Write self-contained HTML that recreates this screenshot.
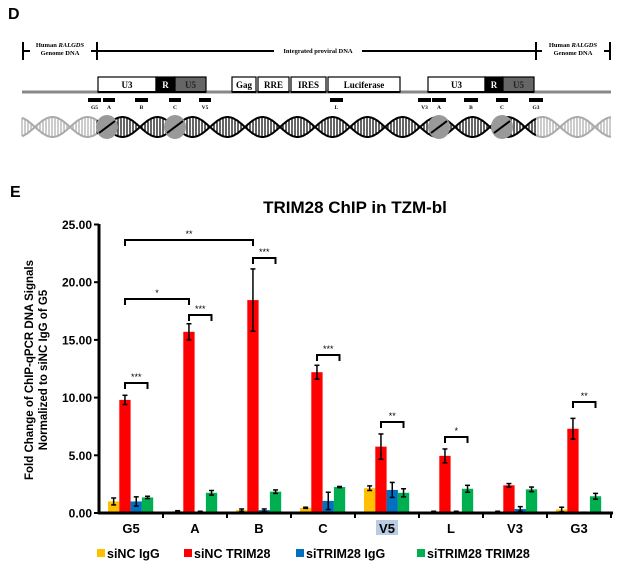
<!DOCTYPE html>
<html><head><meta charset="utf-8"><style>
body{margin:0;background:#fff}
svg{display:block}
text{font-family:"Liberation Sans",Arial,sans-serif}
.s{font-family:"Liberation Serif","Times New Roman",serif;font-weight:bold}
</style></head><body>
<svg id="c" width="632" height="569" viewBox="0 0 632 569" xmlns="http://www.w3.org/2000/svg">
<rect width="632" height="569" fill="#fff"/>
<text x="8" y="19" font-size="16" font-weight="bold">D</text>
<g stroke="#000" stroke-width="2">
<line x1="23" y1="42" x2="23" y2="60"/><line x1="97" y1="42" x2="97" y2="60"/>
<line x1="536" y1="42" x2="536" y2="60"/><line x1="610" y1="42" x2="610" y2="60"/>
<line x1="23" y1="51" x2="30" y2="51"/><line x1="91" y1="51" x2="97" y2="51"/>
<line x1="97" y1="51" x2="274" y2="51"/><line x1="362" y1="51" x2="536" y2="51"/>
<line x1="536" y1="51" x2="542" y2="51"/><line x1="604" y1="51" x2="610" y2="51"/>
</g>
<text class="s" x="60" y="47" font-size="6.5" text-anchor="middle">Human <tspan font-style="italic">RALGDS</tspan></text>
<text class="s" x="60" y="55" font-size="6.5" text-anchor="middle">Genome DNA</text>
<text class="s" x="573" y="47" font-size="6.5" text-anchor="middle">Human <tspan font-style="italic">RALGDS</tspan></text>
<text class="s" x="573" y="55" font-size="6.5" text-anchor="middle">Genome DNA</text>
<text class="s" x="318" y="53" font-size="6.5" text-anchor="middle">Integrated proviral DNA</text>
<line x1="22" y1="92" x2="611" y2="92" stroke="#888" stroke-width="3"/>
<g id="boxes"></g>
<g id="primers"></g>
<g id="helix"></g>
<text x="10" y="197" font-size="16" font-weight="bold">E</text>
<text x="355" y="213" font-size="17" font-weight="bold" text-anchor="middle">TRIM28 ChIP in TZM-bl</text>
<g transform="translate(33,370) rotate(-90)"><text x="0" y="0" font-size="11.5" font-weight="bold" text-anchor="middle">Fold Change of ChIP-qPCR DNA Signals</text>
<text x="0" y="14" font-size="11.5" font-weight="bold" text-anchor="middle">Normalized to siNC IgG of G5</text></g>
<rect x="376" y="520" width="22" height="15" fill="#b8cce4"/>
<g id="chart"></g>
<g id="legend" font-size="12.5" font-weight="bold">
<rect x="97" y="549" width="8" height="8" fill="#FFC000"/><text x="107" y="558">siNC IgG</text>
<rect x="184" y="549" width="8" height="8" fill="#FF0000"/><text x="194" y="558">siNC TRIM28</text>
<rect x="296" y="549" width="8" height="8" fill="#0070C0"/><text x="306" y="558">siTRIM28 IgG</text>
<rect x="417" y="549" width="8" height="8" fill="#00B050"/><text x="427" y="558">siTRIM28 TRIM28</text>
</g>
</svg>
<script>
var NS="http://www.w3.org/2000/svg";
function el(p,t,a,txt){var e=document.createElementNS(NS,t);for(var k in a)e.setAttribute(k,a[k]);if(txt!==undefined)e.textContent=txt;p.appendChild(e);return e;}
var B=document.getElementById('boxes');
var bx=[[98,156,'U3','#fff','#000'],[156,175,'R','#000','#fff'],[175,206,'U5','#666','#222'],[232,256,'Gag','#fff','#000'],[258,289,'RRE','#fff','#000'],[291,326,'IRES','#fff','#000'],[328,400,'Luciferase','#fff','#000'],[428,485,'U3','#fff','#000'],[485,503,'R','#000','#fff'],[503,534,'U5','#666','#222']];
bx.forEach(function(b){el(B,'rect',{x:b[0],y:77,width:b[1]-b[0],height:15,fill:b[3],stroke:'#000','stroke-width':1.2});
el(B,'line',{x1:b[0],y1:92,x2:b[1],y2:92,stroke:'#000','stroke-width':2});
el(B,'text',{x:(b[0]+b[1])/2,y:88,'font-size':9,'text-anchor':'middle',fill:b[4],'class':'s'},b[2]);});
var P=document.getElementById('primers');
[[88,101,'G5'],[103,115,'A'],[135,148,'B'],[169,181,'C'],[199,211,'V5'],[330,343,'L'],[418,431,'V3'],[432,446,'A'],[464,478,'B'],[496,508,'C'],[529,543,'G3']].forEach(function(p){
el(P,'rect',{x:p[0],y:98,width:p[1]-p[0],height:4,fill:'#000'});
el(P,'text',{x:(p[0]+p[1])/2,y:109,'font-size':5.5,'text-anchor':'middle','class':'s'},p[2]);});
var H=document.getElementById('helix');
var per=70,cy=127;
function yy(x,ph){return cy+10*Math.sin(2*Math.PI*x/per+ph);}
for(var x=22;x<=611;x+=3){var col=(x<97||x>536)?'#aaa':'#000';
el(H,'line',{x1:x,y1:yy(x,0),x2:x,y2:yy(x,Math.PI),stroke:col,'stroke-width':1.2});}
[[22,97,'#aaa'],[97,536,'#000'],[536,611,'#aaa']].forEach(function(s){[0,Math.PI].forEach(function(ph){var d='';for(var x=s[0];x<=s[1];x+=1){d+=(x==s[0]?'M':'L')+x+','+yy(x,ph).toFixed(1);}
el(H,'path',{d:d,fill:'none',stroke:s[2],'stroke-width':2});});});
[107,175,439,502].forEach(function(cx){el(H,'ellipse',{cx:cx,cy:cy,rx:11,ry:12,fill:'#999'});
el(H,'line',{x1:cx-8,y1:cy+6,x2:cx+8,y2:cy-6,stroke:'#000','stroke-width':2});});
var C=document.getElementById('chart');
function Y(v){return 513-v*11.54;}
for(var i=0;i<=5;i++){var y=Y(i*5);el(C,'text',{x:92,y:y+4.5,'font-size':12,'font-weight':'bold','text-anchor':'end'},(i*5).toFixed(2));
el(C,'line',{x1:94,y1:y,x2:99,y2:y,stroke:'#000','stroke-width':2});}
var cols=['#FFC000','#FF0000','#0070C0','#00B050'];
var data=[[[1.0,.3],[9.8,.4],[1.0,.4],[1.35,.1]],[[.15,.05],[15.7,.7],[.1,.05],[1.75,.2]],[[.25,.1],[18.45,2.7],[.25,.1],[1.85,.15]],[[.45,.05],[12.2,.6],[1.05,.75],[2.25,.05]],[[2.15,.2],[5.75,1.1],[2.0,.65],[1.75,.35]],[[.1,.05],[4.95,.6],[.1,.05],[2.1,.3]],[[.1,.05],[2.4,.15],[.35,.2],[2.05,.2]],[[.3,.2],[7.3,.9],[.05,.02],[1.45,.25]]];
var labs=['G5','A','B','C','V5','L','V3','G3'];
data.forEach(function(g,i){var g0=99+64*i;
g.forEach(function(b,j){var x=g0+9+j*11.3;el(C,'rect',{x:x,y:Y(b[0]),width:11.3,height:513-Y(b[0]),fill:cols[j]});
var cx=x+5.65;el(C,'line',{x1:cx,y1:Y(b[0]+b[1]),x2:cx,y2:Y(b[0]-b[1]),stroke:'#000','stroke-width':1.5});
[b[0]+b[1],b[0]-b[1]].forEach(function(v){el(C,'line',{x1:cx-2.5,y1:Y(v),x2:cx+2.5,y2:Y(v),stroke:'#000','stroke-width':1.5});});});
el(C,'text',{x:g0+32,y:533,'font-size':13,'font-weight':'bold','text-anchor':'middle'},labs[i]);
el(C,'line',{x1:g0+64,y1:513,x2:g0+64,y2:518,stroke:'#000','stroke-width':2});});
el(C,'line',{x1:99,y1:224,x2:99,y2:514,stroke:'#000','stroke-width':3});
el(C,'line',{x1:98,y1:513,x2:613,y2:513,stroke:'#000','stroke-width':3});
function rc(i){return 99+64*i+26;} function gc(i){return 99+64*i+48.5;}
var br=[[rc(0),rc(2),240,'**'],[rc(0),rc(1),299,'*'],[rc(2),gc(2),258,'***'],[rc(1),gc(1),315,'***'],[rc(3),gc(3),355,'***'],[rc(0),gc(0),383,'***'],[rc(4),gc(4),422,'**'],[rc(5),gc(5),437,'*'],[rc(7),gc(7),402,'**']];
br.forEach(function(b){el(C,'path',{d:'M'+b[0]+','+(b[2]+6)+'V'+b[2]+'H'+b[1]+'V'+(b[2]+6),fill:'none',stroke:'#000','stroke-width':2});
el(C,'text',{x:(b[0]+b[1])/2,y:b[2]-3,'font-size':9,'text-anchor':'middle'},b[3]);});
</script>
</body></html>
